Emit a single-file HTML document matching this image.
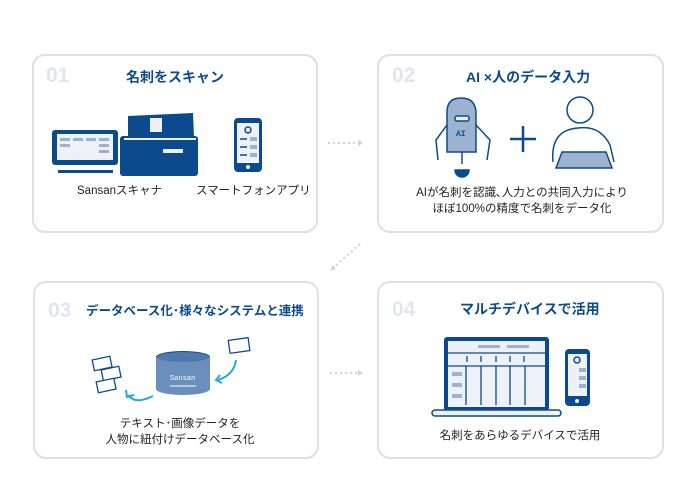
<!DOCTYPE html>
<html><head><meta charset="utf-8"><style>
body{margin:0;width:700px;height:503px;background:#fff;position:relative;overflow:hidden;font-family:"Liberation Sans","Noto Sans CJK JP",sans-serif;}
.box{position:absolute;border:2px solid #e0e0e0;border-radius:13px;box-sizing:border-box;background:#fff}
.num{position:absolute;font-weight:bold;font-size:21px;color:#e1e5f0;}
.tt{position:absolute;font-weight:bold;font-size:14px;color:#0c4a8e;white-space:nowrap}
.tx{position:absolute;font-size:11.5px;color:#222;text-align:center;line-height:16px;white-space:nowrap}
svg{position:absolute;left:0;top:0}
</style></head><body>
<div class="box" style="left:32px;top:54px;width:286px;height:179px"></div>
<div class="box" style="left:377px;top:54px;width:287px;height:179px"></div>
<div class="box" style="left:33px;top:281px;width:286px;height:178px"></div>
<div class="box" style="left:377px;top:281px;width:287px;height:178px"></div>

<div class="num" style="left:46px;top:64px">01</div>
<div class="num" style="left:392px;top:64px">02</div>
<div class="num" style="left:48px;top:299px">03</div>
<div class="num" style="left:392px;top:298px">04</div>

<div class="tt" style="left:126px;top:67px">名刺をスキャン</div>
<div class="tt" style="left:466px;top:67px">AI ×人のデータ入力</div>
<div class="tt" style="left:86px;top:300px;font-size:12.5px">データベース化･様々なシステムと連携</div>
<div class="tt" style="left:460px;top:299px">マルチデバイスで活用</div>

<div class="tx" style="left:77px;top:183px">Sansanスキャナ</div>
<div class="tx" style="left:196px;top:183px">スマートフォンアプリ</div>
<div class="tx" style="top:185px;width:250px;text-align:center;left:397px">AIが名刺を認識､人力との共同入力により<br>ほぼ100%の精度で名刺をデータ化</div>
<div class="tx" style="left:80px;top:416px;width:200px">テキスト･画像データを<br>人物に紐付けデータベース化</div>
<div class="tx" style="left:420px;top:428px;width:200px">名刺をあらゆるデバイスで活用</div>

<svg width="700" height="503" viewBox="0 0 700 503">
<g stroke="#c9d3e3" stroke-width="2" stroke-dasharray="2 3" fill="none">
<line x1="328" y1="143" x2="358" y2="143"/>
<line x1="360" y1="244" x2="333" y2="268"/>
<line x1="330" y1="373" x2="358" y2="373"/>
</g>
<g fill="#c9d3e3"><path d="M358 140 L363 143 L358 146Z"/><path d="M330 271 L336 269 L333 265Z"/><path d="M358 370 L363 373 L358 376Z"/></g>

<g>
<rect x="52" y="130" width="66" height="35" rx="3" fill="#0c4a8e"/>
<rect x="57" y="134" width="56" height="26" fill="#eef2f8"/>
<g fill="#9cb2d0"><rect x="60" y="138" width="10" height="3"/><rect x="73" y="138" width="10" height="3"/><rect x="86" y="138" width="10" height="3"/><rect x="99" y="138" width="10" height="3"/><rect x="60" y="144" width="10" height="3"/><rect x="99" y="144" width="10" height="3"/><rect x="99" y="150" width="10" height="3"/></g>
<rect x="58" y="170" width="55" height="3" fill="#0c4a8e"/>
<path d="M128 116 L193 113 L194 137 L128 138Z" fill="#0c4a8e"/>
<rect x="150" y="118" width="12" height="14" fill="#eef2f8"/>
<rect x="120" y="136" width="78" height="40" rx="3" fill="#0c4a8e"/>
<rect x="124" y="138" width="72" height="2" fill="#eef2f8"/>
<rect x="163" y="149" width="20" height="4" fill="#eef2f8"/>
<rect x="234" y="118" width="28" height="54" rx="4" fill="#0c4a8e"/>
<rect x="237" y="123" width="22" height="40" fill="#eef2f8"/>
<circle cx="248" cy="130" r="3" fill="none" stroke="#0c4a8e" stroke-width="1.5"/>
<g fill="#9cb2d0"><rect x="250" y="137" width="7" height="4"/><rect x="250" y="145" width="7" height="4"/><rect x="250" y="153" width="7" height="4"/></g>
<g stroke="#0c4a8e" stroke-width="1.5"><line x1="240" y1="139" x2="247" y2="139"/><line x1="240" y1="147" x2="247" y2="147"/><line x1="240" y1="155" x2="247" y2="155"/></g>
<circle cx="248" cy="167" r="2" fill="#eef2f8"/>
</g>

<g stroke="#0c4a8e" stroke-width="1.5">
<path d="M447 152 L447 112 Q447 98 461 98 Q475 98 476 112 L476 152 Z" fill="#9cb2d0"/>
<rect x="455" y="116" width="14" height="5" rx="2" fill="#eef2f8"/>
<path d="M447 125 L436 140 L438 160 M476 125 L490 140 L487 160" fill="none"/>
<path d="M455 170 A7 7 0 0 0 469 170 Z" fill="#0c4a8e"/>
<line x1="462" y1="152" x2="462" y2="164"/>
<line x1="510" y1="139" x2="536" y2="139" stroke-width="2.5"/>
<line x1="523" y1="126" x2="523" y2="152" stroke-width="2.5"/>
<circle cx="580" cy="110" r="13" fill="none"/>
<path d="M553 162 Q550 130 578 128 Q600 125 610 145 L614 162" fill="none"/>
<path d="M556 168 L612 168 L606 152 L562 152 Z" fill="#9cb2d0"/>
</g>
<text x="456" y="136" font-size="8" font-weight="bold" fill="#0c4a8e" font-family="Liberation Mono">AI</text>

<g>
<ellipse cx="183" cy="357" rx="27" ry="6" fill="#0c4a8e"/>
<rect x="156" y="357" width="54" height="32" fill="#6b8fbd"/>
<ellipse cx="183" cy="389" rx="27" ry="6" fill="#6b8fbd"/>
<ellipse cx="183" cy="357" rx="26" ry="5" fill="#4f78ae"/>
<text x="170" y="380" font-size="7" fill="#fff" font-family="Liberation Mono">Sansan</text>
<line x1="170" y1="386" x2="196" y2="386" stroke="#fff"/>
<g fill="#fff" stroke="#0c4a8e" stroke-width="1.3">
<rect x="93" y="358" width="18" height="11" transform="rotate(-12 102 363)"/>
<rect x="102" y="368" width="18" height="11" transform="rotate(-12 111 373)"/>
<rect x="97" y="380" width="18" height="11" transform="rotate(-12 106 385)"/>
<rect x="229" y="339" width="20" height="13" transform="rotate(-8 239 345)"/>
</g>
<g stroke="#29a8e0" stroke-width="2" fill="none">
<path d="M153 396 Q135 405 128 395"/><path d="M126 390 L127 397 L134 395"/>
<path d="M236 360 Q234 375 218 380"/><path d="M220 375 L216 380 L222 383"/>
</g>
</g>

<g>
<rect x="444" y="337" width="105" height="74" rx="3" fill="#0c4a8e"/>
<rect x="448" y="341" width="97" height="66" fill="#eef2f8"/>
<rect x="432" y="410" width="129" height="6" rx="3" fill="#eef2f8" stroke="#0c4a8e" stroke-width="1.5"/>
<g fill="#9cb2d0"><rect x="478" y="345" width="22" height="3"/><rect x="507" y="345" width="22" height="3"/><rect x="452" y="372" width="10" height="4"/><rect x="452" y="383" width="10" height="4"/><rect x="452" y="394" width="10" height="4"/></g>
<g stroke="#0c4a8e" stroke-width="1.3"><line x1="448" y1="353" x2="545" y2="353"/><line x1="448" y1="366" x2="545" y2="366"/>
<line x1="467" y1="356" x2="467" y2="362"/><line x1="481" y1="356" x2="481" y2="362"/><line x1="496" y1="356" x2="496" y2="362"/><line x1="510" y1="356" x2="510" y2="362"/><line x1="524" y1="356" x2="524" y2="362"/>
<line x1="466" y1="366" x2="466" y2="405"/><line x1="481" y1="366" x2="481" y2="405"/><line x1="496" y1="366" x2="496" y2="405"/><line x1="510" y1="366" x2="510" y2="405"/><line x1="525" y1="366" x2="525" y2="405"/></g>
<rect x="565" y="349" width="25" height="57" rx="4" fill="#0c4a8e"/>
<rect x="568" y="354" width="19" height="42" fill="#eef2f8"/>
<circle cx="577" cy="360" r="3" fill="none" stroke="#0c4a8e" stroke-width="1.5"/>
<g fill="#9cb2d0"><rect x="579" y="368" width="7" height="4"/><rect x="579" y="376" width="7" height="4"/><rect x="579" y="384" width="7" height="4"/></g>
<circle cx="577" cy="401" r="2" fill="#eef2f8"/>
</g>
</svg>
</body></html>
